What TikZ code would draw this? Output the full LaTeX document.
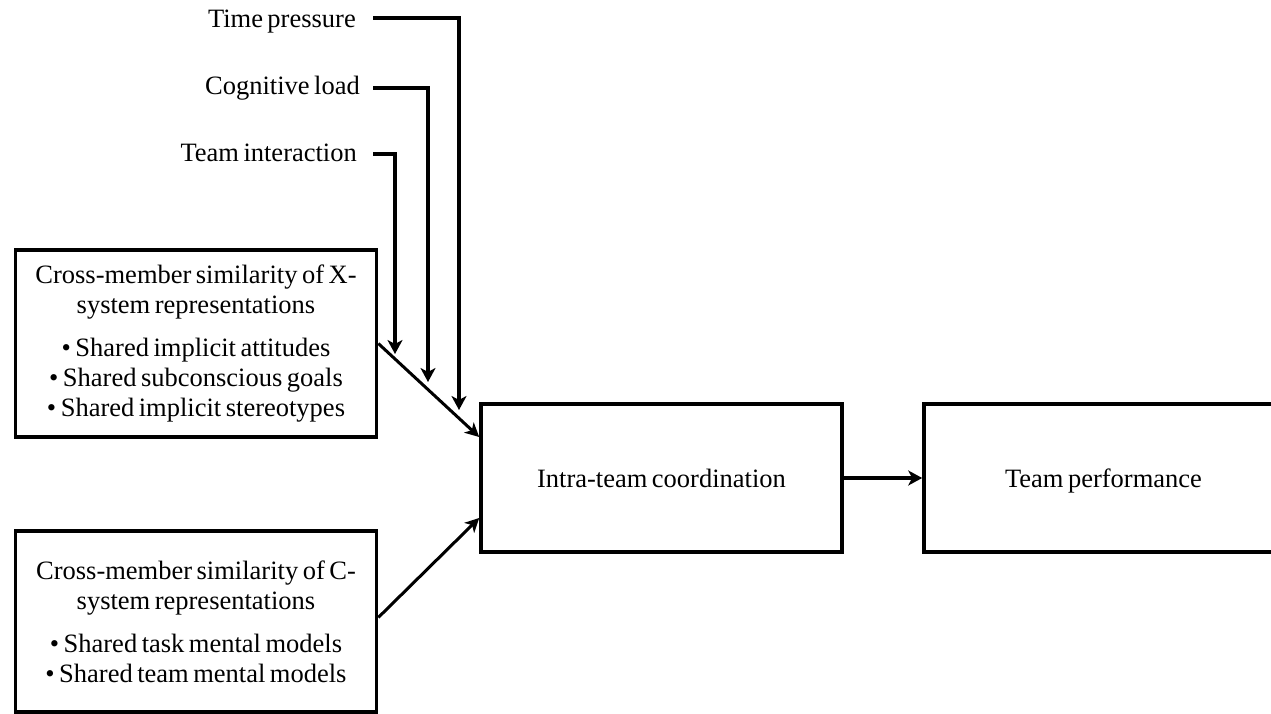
\documentclass[tikz,border=0pt]{standalone}
\usepackage{fontspec}
\setmainfont{Liberation Serif}[WordSpace=0.68]
\usetikzlibrary{arrows.meta,calc}
\begin{document}
\begin{tikzpicture}[x=1pt,y=-1pt,
  txt/.style={font=\fontsize{26.5}{30}\selectfont},
  box/.style={draw,line width=3.6pt,inner sep=0pt,align=center,txt},
  lbl/.style={anchor=base east,inner sep=0pt,txt},
  arr/.style={line width=3.6pt,-{Stealth[length=14pt,width=15pt,inset=4pt]}},
  darr/.style={line width=3pt,-{Stealth[length=14pt,width=14pt,inset=4pt]}},
]
\useasboundingbox (0,0) rectangle (1271,714);
\clip (0,0) rectangle (1271,714);
\fill[white] (0,0) rectangle (1271,714);

\node[box,minimum width=361pt,minimum height=187pt] (xbox) at (196,343.5)
  {Cross-member similarity of X-\\system representations\\[13pt]
   • Shared implicit attitudes\\• Shared subconscious goals\\• Shared implicit stereotypes};
\node[box,minimum width=361pt,minimum height=181pt] (cbox) at (196,621.5)
  {Cross-member similarity of C-\\system representations\\[13pt]
   • Shared task mental models\\• Shared team mental models};
\node[box,minimum width=361pt,minimum height=148pt] (intra) at (661.5,478) {Intra-team coordination};
\node[box,minimum width=359pt,minimum height=148pt,text depth=0pt] (tperf) at (1103.5,478) {Team performance};

\node[lbl] (tp) at (356,28) {Time pressure};
\node[lbl] (cl) at (360,95) {Cognitive load};
\node[lbl] (ti) at (357,162) {Team interaction};

\coordinate (tpT) at (459,410);
\coordinate (clT) at (428,382);
\coordinate (tiT) at (395,354);

\draw[arr] ($(tp.base east)+(17,-10)$) -| (tpT);
\draw[arr] ($(cl.base east)+(13,-7)$) -| (clT);
\draw[arr] ($(ti.base east)+(16,-8)$) -| (tiT);

\draw[darr] (xbox.east) -- ([yshift=41pt]intra.west);
\draw[darr] ([yshift=4pt]cbox.east) -- ([yshift=-40pt]intra.west);
\draw[arr] (intra) -- (tperf);
\end{tikzpicture}
\end{document}
